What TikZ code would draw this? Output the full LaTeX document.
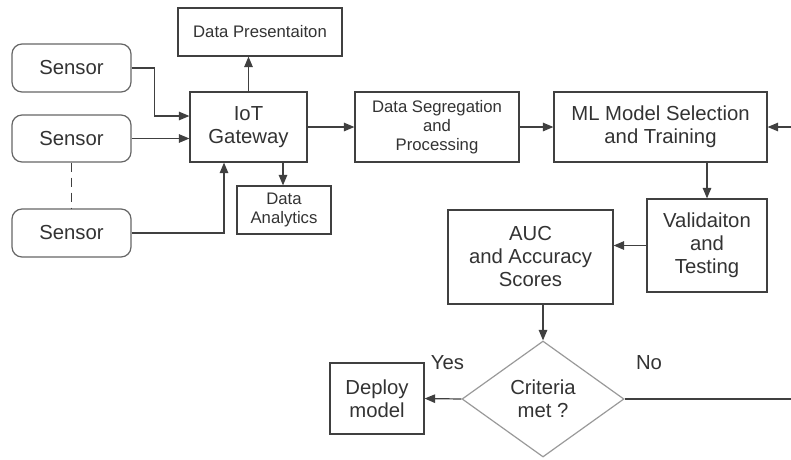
\documentclass[tikz,border=0pt]{standalone}
\usepackage{fontspec}
\setmainfont{Liberation Sans}
\usetikzlibrary{arrows.meta,shapes.geometric}
\definecolor{ink}{HTML}{333333}
\definecolor{edge}{HTML}{404040}
\definecolor{soft}{HTML}{9A9A9A}
\begin{document}
\begin{tikzpicture}[x=1pt,y=-1pt,
  big/.style={font=\fontsize{20.3}{23}\selectfont},
  small/.style={font=\fontsize{16.7}{19}\selectfont},
  boxx/.style={draw=edge,line width=1.2pt,text=ink,align=center,inner sep=0pt},
  sensorbox/.style={boxx,draw=edge!80,rounded corners=10pt,big},
  arr/.style={draw=edge,line width=1.2pt,-{Triangle[length=10.5pt,width=8.5pt]}},
  plain/.style={draw=edge,line width=1.2pt}]
\useasboundingbox (0,0) rectangle (791,459);
\fill[white] (0,0) rectangle (791,459);
% nodes
\node[sensorbox,minimum width=119,minimum height=48] (s1) at (71.5,68) {Sensor};
\node[sensorbox,minimum width=119,minimum height=47] (s2) at (71.5,138.5) {Sensor};
\node[sensorbox,minimum width=119,minimum height=48] (s3) at (71.5,233) {Sensor};
\node[boxx,small,minimum width=164,minimum height=48] (pres) at (260,32) {Data Presentaiton};
\node[boxx,big,minimum width=117,minimum height=70] (gw) at (248.5,127) {IoT\\Gateway};
\node[boxx,small,minimum width=94,minimum height=48] (ana) at (284,210) {Data\\Analytics};
\node[boxx,small,minimum width=164,minimum height=70] (seg) at (437,127) {Data Segregation\\and\\Processing};
\node[boxx,big,minimum width=213,minimum height=70] (ml) at (660.5,127) {ML Model Selection\\and Training};
\node[boxx,big,minimum width=120,minimum height=93] (val) at (707,245.5) {Validaiton\\and\\Testing};
\node[boxx,big,minimum width=165,minimum height=94] (auc) at (530.5,257) {AUC\\and Accuracy\\Scores};
\node[diamond,draw=soft,line width=1.2pt,text=ink,align=center,inner sep=0pt,shape aspect=1.4,
      minimum width=162,minimum height=116,big] (crit) at (543,399) {Criteria\\met ?};
\node[boxx,big,minimum width=94,minimum height=71] (dep) at (377,398.5) {Deploy\\model};
\node[big,text=ink] (yes) at (447.5,363) {Yes};
\node[big,text=ink] (no) at (649,363) {No};
\coordinate (edgeR) at (791,127);
\coordinate (edgeN) at (791,399);
% connectors
\draw[arr] (s1.east) -- ++(23,0) |- ([yshift=11pt]gw.west);
\draw[arr] (s2.east) -- (s2.east -| gw.west);
\draw[arr] (s3.east) -| ([xshift=-24.5pt]gw.south);
\draw[plain,dashed,dash pattern=on 9pt off 6pt] (s2.south) -- (s3.north);
\draw[arr] (gw.north) -- (gw.north |- pres.south);
\draw[arr] ([xshift=34.5pt]gw.south) -- ([xshift=34.5pt]gw.south |- ana.north);
\draw[arr] (gw.east) -- (seg.west);
\draw[arr] (seg.east) -- (ml.west);
\draw[arr] (edgeR) -- (ml.east);
\draw[arr] (val.north |- ml.south) -- (val.north);
\draw[arr] (val.west) -- (val.west -| auc.east);
\draw[arr] (crit.north |- auc.south) -- (crit.north);
\draw[arr] (crit.west) -- (dep.east);
\draw[plain] (crit.east) -- (edgeN);
\end{tikzpicture}
\end{document}
